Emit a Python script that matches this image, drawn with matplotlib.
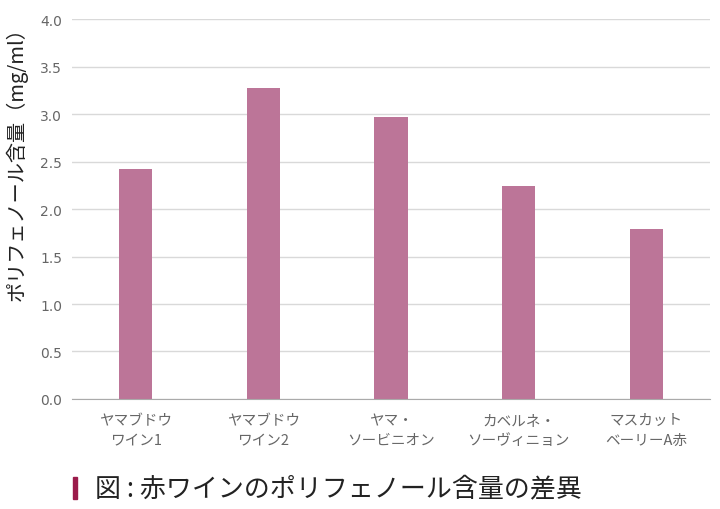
import matplotlib.pyplot as plt
import numpy as np

plt.rcParams["font.family"] = ["Noto Sans CJK JP", "DejaVu Sans"]

categories = ["ヤマブドウ\nワイン1", "ヤマブドウ\nワイン2", "ヤマ・\nソービニオン",
              "カベルネ・\nソーヴィニョン", "マスカット\nベーリーA赤"]
values = [2.42, 3.27, 2.97, 2.24, 1.79]
yticks = [0.0, 0.5, 1.0, 1.5, 2.0, 2.5, 3.0, 3.5, 4.0]

BAR_COLOR = "#bc7598"
TEXT_GRAY = "#666666"

fig = plt.figure(figsize=(7.2, 5.1), dpi=100)
ax = fig.add_axes([0.1, 0.2157, 0.886, 0.745])

x = np.arange(len(categories))
ax.bar(x, values, width=0.26, color=BAR_COLOR, zorder=3)

ax.set_xlim(-0.5, len(categories) - 0.5)
ax.set_ylim(0, 4.0)
ax.set_yticks(yticks)
ax.set_yticklabels([f"{v:.1f}" for v in yticks], fontsize=10, color=TEXT_GRAY,
                   family=["DejaVu Sans"])
ax.set_xticks(x)
ax.set_xticklabels(categories, fontsize=10.5, color=TEXT_GRAY, linespacing=1.55)
ax.tick_params(axis="both", length=0)
ax.tick_params(axis="y", pad=7)
ax.tick_params(axis="x", pad=10)

ax.grid(axis="y", color="#d9d9d9", linewidth=1, zorder=0)
for side in ["top", "right", "left"]:
    ax.spines[side].set_visible(False)
ax.spines["bottom"].set_color("#aaaaaa")
ax.spines["bottom"].set_zorder(4)

ax.set_ylabel("ポリフェノール含量（mg/ml）", fontsize=14.5, color="#222222")
ax.yaxis.set_label_coords(-0.07, 0.635)

# caption with accent bar
fig.patches.append(plt.Rectangle((73 / 720, 1 - 500 / 510), 4 / 720, 22 / 510,
                                 transform=fig.transFigure, color="#9b1b4b"))
fig.text(95 / 720, 1 - 489 / 510, "図 : 赤ワインのポリフェノール含量の差異",
         fontsize=18.7, color="#222222", va="center", ha="left")

fig.savefig("out.png", dpi=100)
